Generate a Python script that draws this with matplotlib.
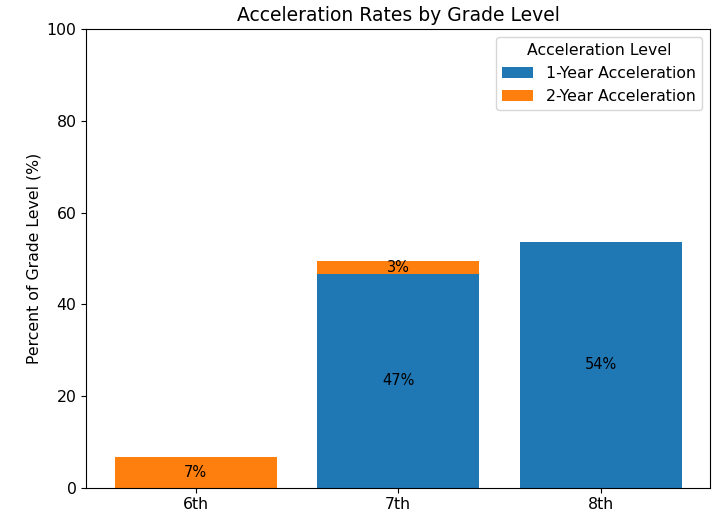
import matplotlib
matplotlib.use("Agg")
from matplotlib import pyplot as plt
import numpy as np

grades = ["6th", "7th", "8th"]
one_year = [0.0, 46.6, 53.6]
two_year = [6.7, 2.9, 0.0]


def run():
    plt.rcParams["font.size"] = 11.3
    fig, ax = plt.subplots(figsize=(7.18, 5.15), dpi=100)
    x = np.arange(len(grades))
    ax.bar(x, one_year, 0.8, color="#1f77b4", label="1-Year Acceleration")
    ax.bar(x, two_year, 0.8, bottom=one_year, color="#ff7f0e",
           label="2-Year Acceleration")

    for i in range(len(grades)):
        if one_year[i] > 0:
            ax.text(x[i], one_year[i] / 2, f"{one_year[i]:.0f}%",
                    ha="center", va="center", fontsize=10.5)
        if two_year[i] > 0:
            ax.text(x[i], one_year[i] + two_year[i] / 2, f"{two_year[i]:.0f}%",
                    ha="center", va="center", fontsize=10.5)

    ax.set_xticks(x)
    ax.set_xticklabels(grades)
    ax.set_ylim(0, 100)
    ax.set_ylabel("Percent of Grade Level (%)")
    ax.set_title("Acceleration Rates by Grade Level", fontsize=13.5)
    ax.legend(title="Acceleration Level", loc="upper right")
    fig.subplots_adjust(left=0.12, right=0.989, top=0.943, bottom=0.053)
    plt.savefig("out.png", dpi=100)


if __name__ == "__main__":
    run()
